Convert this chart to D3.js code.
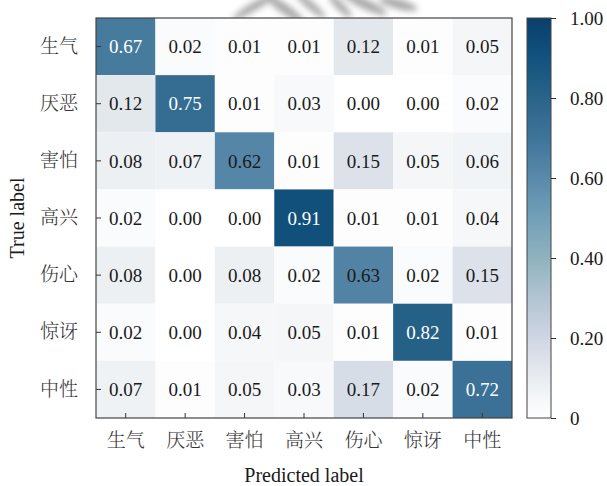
<!DOCTYPE html>
<html>
<head>
<meta charset="utf-8">
<script src="https://cdn.jsdelivr.net/npm/d3@7"></script>
<style>
  html, body { margin: 0; padding: 0; background: #fff; }
  svg { display: block; }
</style>
</head>
<body>
<svg id="chart" width="607" height="486"></svg>
<script>
// Emotion classes (rows = true, columns = predicted)
const classes = ["生气", "厌恶", "害怕", "高兴", "伤心", "惊讶", "中性"];

// Normalized confusion matrix, one array per true class
const rowAnger    = [0.67, 0.02, 0.01, 0.01, 0.12, 0.01, 0.05];
const rowDisgust  = [0.12, 0.75, 0.01, 0.03, 0.00, 0.00, 0.02];
const rowFear     = [0.08, 0.07, 0.62, 0.01, 0.15, 0.05, 0.06];
const rowHappy    = [0.02, 0.00, 0.00, 0.91, 0.01, 0.01, 0.04];
const rowSad      = [0.08, 0.00, 0.08, 0.02, 0.63, 0.02, 0.15];
const rowSurprise = [0.02, 0.00, 0.04, 0.05, 0.01, 0.82, 0.01];
const rowNeutral  = [0.07, 0.01, 0.05, 0.03, 0.17, 0.02, 0.72];
const matrix = [rowAnger, rowDisgust, rowFear, rowHappy, rowSad, rowSurprise, rowNeutral];

// Colorbar ticks
const cbTicks = [0, 0.2, 0.4, 0.6, 0.8, 1.0];
const cbTickLabels = ["0", "0.20", "0.40", "0.60", "0.80", "1.00"];

const svg = d3.select("#chart");
const serif = "'Liberation Serif', 'Times New Roman', serif";
const cjk = "'Noto Serif CJK SC', 'Noto Sans CJK SC', sans-serif";

// Plot geometry
const plot = { left: 96, top: 18, width: 416, height: 400 };
const cb = { left: 527, width: 24 };

// Soft grey smudge along the top edge
const defs = svg.append("defs");
const blur = defs.append("filter").attr("id", "smudge")
  .attr("x", "-50%").attr("y", "-50%").attr("width", "200%").attr("height", "200%");
blur.append("feGaussianBlur").attr("stdDeviation", 3);
const smudge = svg.append("g").attr("filter", "url(#smudge)").attr("opacity", 0.6);
[[255, 6, 26, 4, -30], [285, 9, 22, 5, 35], [310, 5, 20, 4, 40], [340, 6, 16, 4, 45],
 [365, 4, 24, 5, 25], [398, 4, 20, 5, 15]].forEach(([cx, cy, rx, ry, rot]) => {
  smudge.append("ellipse")
    .attr("cx", cx).attr("cy", cy).attr("rx", rx).attr("ry", ry)
    .attr("transform", `rotate(${rot},${cx},${cy})`)
    .attr("fill", "#707070");
});

// Blue colormap
const stops = [
  [0.00, "#ffffff"], [0.10, "#e8ecf0"], [0.20, "#cfd6e3"], [0.30, "#b3c4d2"],
  [0.40, "#8fb2bd"], [0.50, "#72a0b8"], [0.60, "#5a8aaa"], [0.70, "#3f7499"],
  [0.80, "#2a6488"], [0.90, "#13527e"], [1.00, "#0a3f6a"]
];
const color = d3.scaleLinear()
  .domain(stops.map(s => s[0]))
  .range(stops.map(s => s[1]))
  .interpolate(d3.interpolateRgb)
  .clamp(true);

const x = d3.scaleBand().domain(classes).range([plot.left, plot.left + plot.width]);
const y = d3.scaleBand().domain(classes).range([plot.top, plot.top + plot.height]);

// Cells
const cells = [];
matrix.forEach((row, i) => row.forEach((v, j) => cells.push({ t: classes[i], p: classes[j], v })));

svg.append("g").selectAll("rect").data(cells).join("rect")
  .attr("x", d => x(d.p)).attr("y", d => y(d.t))
  .attr("width", x.bandwidth()).attr("height", y.bandwidth())
  .attr("fill", d => color(d.v));

svg.append("g").selectAll("text").data(cells).join("text")
  .attr("x", d => x(d.p) + x.bandwidth() / 2)
  .attr("y", d => y(d.t) + y.bandwidth() / 2)
  .attr("dy", "0.35em")
  .attr("text-anchor", "middle")
  .attr("font-family", serif).attr("font-size", 19)
  .attr("fill", d => d.v > 0.65 ? "#ffffff" : "#1a1a1a")
  .text(d => d.v.toFixed(2));

// Axes (ticks pointing inward)
const xAxis = svg.append("g")
  .attr("transform", `translate(0,${plot.top + plot.height})`)
  .call(d3.axisBottom(x).tickSizeInner(-5).tickSizeOuter(0).tickPadding(16));
const yAxis = svg.append("g")
  .attr("transform", `translate(${plot.left},0)`)
  .call(d3.axisLeft(y).tickSizeInner(-5).tickSizeOuter(0).tickPadding(18));
[xAxis, yAxis].forEach(a => {
  a.select(".domain").remove();
  a.selectAll(".tick line").attr("stroke", "#333").attr("stroke-width", 1);
  a.selectAll(".tick text")
    .attr("font-family", cjk).attr("font-size", 19).attr("font-weight", 300)
    .attr("fill", "#333");
});

// Frame
svg.append("rect")
  .attr("x", plot.left).attr("y", plot.top)
  .attr("width", plot.width).attr("height", plot.height)
  .attr("fill", "none").attr("stroke", "#444").attr("stroke-width", 1.2);

// Axis titles
svg.append("text")
  .attr("x", plot.left + plot.width / 2).attr("y", 482)
  .attr("text-anchor", "middle")
  .attr("font-family", serif).attr("font-size", 20).attr("fill", "#1a1a1a")
  .text("Predicted label");
svg.append("text")
  .attr("transform", `translate(24,${plot.top + plot.height / 2}) rotate(-90)`)
  .attr("text-anchor", "middle")
  .attr("font-family", serif).attr("font-size", 20).attr("fill", "#1a1a1a")
  .text("True label");

// Colorbar
const cbScale = d3.scaleLinear().domain([0, 1]).range([plot.top + plot.height, plot.top]);
const grad = defs.append("linearGradient").attr("id", "cbgrad")
  .attr("x1", 0).attr("y1", 1).attr("x2", 0).attr("y2", 0);
d3.range(0, 1.0001, 0.05).forEach(t => {
  grad.append("stop").attr("offset", t).attr("stop-color", color(t));
});
svg.append("rect")
  .attr("x", cb.left).attr("y", plot.top)
  .attr("width", cb.width).attr("height", plot.height)
  .attr("fill", "url(#cbgrad)")
  .attr("stroke", "#444").attr("stroke-width", 1);

const cbAxis = svg.append("g")
  .attr("transform", `translate(${cb.left + cb.width},0)`)
  .call(d3.axisRight(cbScale).tickValues(cbTicks)
    .tickFormat((d, i) => cbTickLabels[i]).tickSizeInner(5).tickSizeOuter(0).tickPadding(14));
cbAxis.select(".domain").remove();
cbAxis.selectAll(".tick line").attr("stroke", "#333");
cbAxis.selectAll(".tick text")
  .attr("font-family", serif).attr("font-size", 19).attr("fill", "#1a1a1a");
</script>
</body>
</html>
